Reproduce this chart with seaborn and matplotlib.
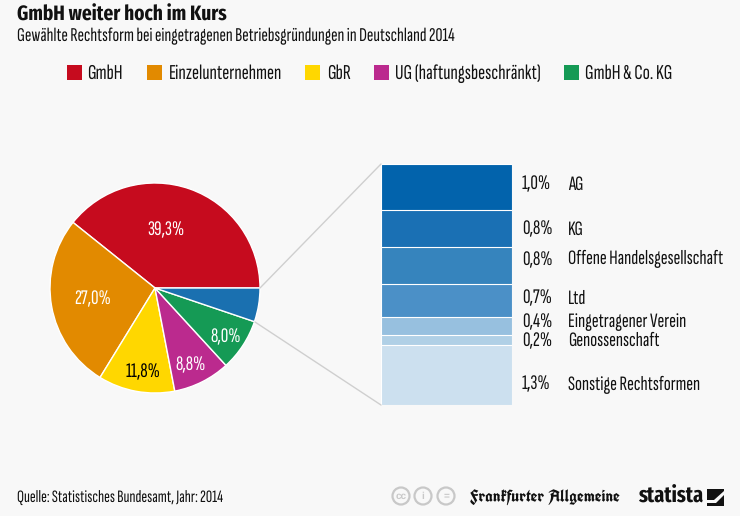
import matplotlib
matplotlib.use("Agg")
import matplotlib.pyplot as plt
from matplotlib import font_manager as fm
from matplotlib.patches import Rectangle, Circle, Polygon
import numpy as np
import seaborn as sns

# ========== data ==========
main_labels = ['GmbH', 'Einzelunternehmen', 'GbR', 'UG (haftungsbeschränkt)', 'GmbH & Co. KG']
main_values = [39.3, 27.0, 11.8, 8.8, 8.0]
main_colors = ['#c60b1e', '#e28a00', '#ffd700', '#bb2a8e', '#159a55']
main_texts = ['39,3%', '27,0%', '11,8%', '8,8%', '8,0%']

other_labels = ['AG', 'KG', 'Offene Handelsgesellschaft', 'Ltd', 'Eingetragener Verein',
                'Genossenschaft', 'Sonstige Rechtsformen']
other_values = [1.0, 0.8, 0.8, 0.7, 0.4, 0.2, 1.3]
other_texts = ['1,0%', '0,8%', '0,8%', '0,7%', '0,4%', '0,2%', '1,3%']
other_colors = ['#0263ac', '#1a70b4', '#3684bd', '#4b90c7', '#97c0df', '#b0d0e6', '#cce0ef']
other_color = '#1a70b0'

BG = '#f8f8f8'
W, H = 740, 516

# condensed faces if there are any, otherwise a smaller plain one
installed = {f.name for f in fm.fontManager.ttflist}
NARROW = 'Sofia Sans Extra Condensed'
BOLD = 'Fira Sans Extra Condensed'
fs = 1.0
bs = 1.0
if NARROW not in installed:
    NARROW = 'Liberation Sans'
    fs = 0.62
if BOLD not in installed:
    BOLD = 'Liberation Sans'
    bs = 0.75
BLACKLETTER = 'UnifrakturCook' if 'UnifrakturCook' in installed else 'Liberation Serif'

sns.set_theme(style='white')
plt.rcParams['font.family'] = [NARROW, 'DejaVu Sans']
plt.rcParams['text.hinting'] = 'no_hinting'
plt.rcParams['text.hinting_factor'] = 1

fig = plt.figure(figsize=(W / 100, H / 100), dpi=100, facecolor=BG)


def px_axes(x0, y0, x1, y1):
    # axes box given in picture pixels (y from the top)
    return fig.add_axes([x0 / W, 1 - y1 / H, (x1 - x0) / W, (y1 - y0) / H])


# ========== pie ==========
ax_pie = px_axes(50, 183, 260, 393)
pie_values = main_values + [sum(other_values)]
pie_colors = main_colors + [other_color]
ax_pie.pie(pie_values, colors=pie_colors, startangle=0, radius=1,
           wedgeprops={'edgecolor': 'white', 'linewidth': 1})
ax_pie.set_xlim(-1, 1)
ax_pie.set_ylim(-1, 1)

# ========== stacked bar (layered cumulative bars) ==========
ax_bar = px_axes(381, 164, 512, 405)
cum_values = np.cumsum(other_values)
for cum, col in zip(cum_values[::-1], other_colors[::-1]):
    sns.barplot(x=['Andere'], y=[cum], color=col, saturation=1, width=1,
                edgecolor='white', linewidth=0.8, ax=ax_bar)
ax_bar.set_xlim(-0.5, 0.5)
ax_bar.set_ylim(cum_values[-1], 0)
ax_bar.axis('off')

# ========== overlay for text and furniture ==========
ov = fig.add_axes([0, 0, 1, 1])
ov.set_xlim(0, W)
ov.set_ylim(H, 0)
ov.axis('off')
ov.patch.set_alpha(0)

ov.plot([260, 381], [288, 164], color='#cfcfcf', lw=1)
ov.plot([255, 381], [322, 405], color='#cfcfcf', lw=1)

ov.text(17, 15, 'GmbH weiter hoch im Kurs', fontsize=15 * bs, fontweight='bold',
        family=BOLD, color='#111111', va='center', ha='left')
ov.text(17, 36, 'Gewählte Rechtsform bei eingetragenen Betriebsgründungen in Deutschland 2014',
        fontsize=14.1 * fs, color='#111111', va='center', ha='left')

# legend
swatch_x = [67, 147, 305, 374, 564]
legend_text_x = [87, 169, 327, 395, 585]
for sx, tx, lab, col in zip(swatch_x, legend_text_x, main_labels, main_colors):
    ov.add_patch(Rectangle((sx, 65), 15, 15, facecolor=col, edgecolor='none'))
    ov.text(tx, 73.5, lab, fontsize=15.3 * fs, color='#111111', va='center', ha='left')

# pie labels
pie_label_pos = [(166, 230), (93, 299), (143, 372), (191, 365), (226, 337)]
pie_label_col = ['white', 'white', '#000000', 'white', 'white']
for (x, y), txt, col in zip(pie_label_pos, main_texts, pie_label_col):
    ov.text(x, y, txt, fontsize=15 * fs, color=col, ha='center', va='center')

# right hand labels
pct_y = [184.5, 229.5, 260.5, 298.5, 322, 341, 384.5]
name_y = [184.5, 229.5, 258.5, 298.5, 322, 341, 384.5]
for py, ny, pct, name in zip(pct_y, name_y, other_texts, other_labels):
    ov.text(522, py, pct, fontsize=15 * fs, color='#111111', va='center', ha='left')
    ov.text(568, ny, name, fontsize=14.8 * fs, color='#111111', va='center', ha='left')

ov.text(17, 499, 'Quelle: Statistisches Bundesamt, Jahr: 2014', fontsize=12.6 * fs,
        color='#111111', va='center', ha='left')

# licence icons
for cx, sym in zip([401, 423, 446], ['cc', 'i', '=']):
    ov.add_patch(Circle((cx, 496), 8.5, facecolor='none', edgecolor='#c8c8c8', lw=1.6))
    ov.text(cx, 496, sym, fontsize=7, fontweight='bold', color='#c8c8c8',
            ha='center', va='center', family='Liberation Sans')

# logos
ov.text(470, 498, 'Frankfurter Allgemeine', fontsize=12.2, fontweight='bold',
        family=BLACKLETTER, color='#111111', va='center', ha='left')
ov.text(638, 497, 'statista', fontsize=16 * bs, fontweight='bold', family=BOLD,
        color='#111111', va='center', ha='left')
ov.add_patch(Rectangle((707, 489), 17, 17, facecolor='#111111', edgecolor='none'))
ov.add_patch(Polygon([(707, 500), (714, 500), (724, 491), (724, 495), (716, 503), (707, 503)],
                     facecolor=BG, edgecolor='none'))

fig.savefig('out.png', dpi=100, facecolor=BG)
